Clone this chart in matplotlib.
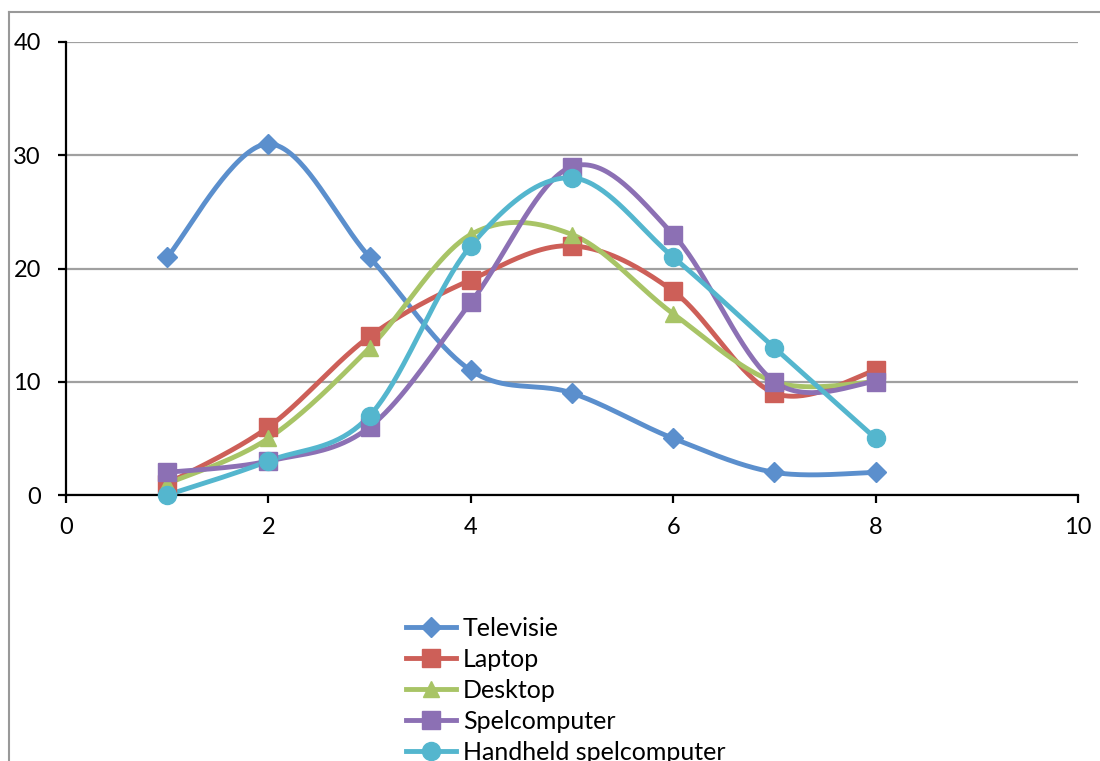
import numpy as np
import matplotlib
matplotlib.use("Agg")
import matplotlib.pyplot as plt
from matplotlib.lines import Line2D

x_vals = [1, 2, 3, 4, 5, 6, 7, 8]
televisie = [21, 31, 21, 11, 9, 5, 2, 2]
laptop = [1, 6, 14, 19, 22, 18, 9, 11]
desktop = [1, 5, 13, 23, 23, 16, 10, 10]
spelcomputer = [2, 3, 6, 17, 29, 23, 10, 10]
handheld = [0, 3, 7, 22, 28, 21, 13, 5]
series_names = ["Televisie", "Laptop", "Desktop", "Spelcomputer", "Handheld spelcomputer"]
x_ticks = [0, 2, 4, 6, 8, 10]
y_ticks = [0, 10, 20, 30, 40]

colors = ["#5B8FCD", "#CD5F58", "#A8C466", "#8C70B4", "#54B6CE"]
markers = ["D", "s", "^", "s", "o"]
msizes = [10, 12.5, 12, 13, 13]

plt.rcParams['font.family'] = ['Lato', 'DejaVu Sans']


def smooth(xs, ys, n=40):
    p = np.column_stack([xs, ys]).astype(float)
    pts = np.vstack([p[0], p, p[-1]])
    out = []
    for i in range(1, len(pts) - 2):
        p0, p1, p2, p3 = pts[i - 1], pts[i], pts[i + 1], pts[i + 2]
        c1 = p1 + (p2 - p0) / 6.0
        c2 = p2 - (p3 - p1) / 6.0
        t = np.linspace(0, 1, n)[:, None]
        seg = ((1 - t) ** 3) * p1 + 3 * ((1 - t) ** 2) * t * c1 + 3 * (1 - t) * t ** 2 * c2 + t ** 3 * p2
        out.append(seg if i == 1 else seg[1:])
    arr = np.vstack(out)
    return arr[:, 0], arr[:, 1]


fig = plt.figure(figsize=(11, 7.61), dpi=100)
ax = fig.add_axes([66 / 1100, 1 - 495 / 761, (1078 - 66) / 1100, (495 - 42) / 761])

all_series = [televisie, laptop, desktop, spelcomputer, handheld]
handles = []
for ys, c, m, ms, name in zip(all_series, colors, markers, msizes, series_names):
    sx, sy = smooth(x_vals, ys)
    ax.plot(sx, sy, color=c, lw=3.5, solid_capstyle='round', zorder=3)
    ax.plot(x_vals, ys, ls='none', marker=m, ms=ms, color=c, zorder=4, clip_on=False)
    handles.append(Line2D([], [], color=c, lw=3.5, marker=m, ms=ms))

ax.set_xlim(0, 10)
ax.set_ylim(0, 40)
ax.set_xticks(x_ticks)
ax.set_yticks(y_ticks)
ax.yaxis.grid(True, color="#A0A0A0", lw=1.6)
ax.set_axisbelow(True)
for s in ["top", "right"]:
    ax.spines[s].set_visible(False)
for s in ["left", "bottom"]:
    ax.spines[s].set_linewidth(1.6)
    ax.spines[s].set_color("black")
ax.tick_params(axis='both', direction='out', length=6, width=1.6, labelsize=17)
ax.tick_params(axis='y', pad=12)
ax.tick_params(axis='x', pad=10)

fig.legend(handles, series_names, loc='upper left', bbox_to_anchor=(406 / 1100, 1 - 617 / 761),
           frameon=False, fontsize=18, handlelength=2.0, handletextpad=0.28, labelspacing=0.32,
           borderaxespad=0, borderpad=0)

# outer chart border (partially visible)
fig.add_artist(Line2D([9 / 1100, 1], [1 - 12 / 761, 1 - 12 / 761], color="#999999", lw=1.5))
fig.add_artist(Line2D([9 / 1100, 9 / 1100], [0, 1 - 12 / 761], color="#999999", lw=1.5))

fig.savefig("out.png", dpi=100)
